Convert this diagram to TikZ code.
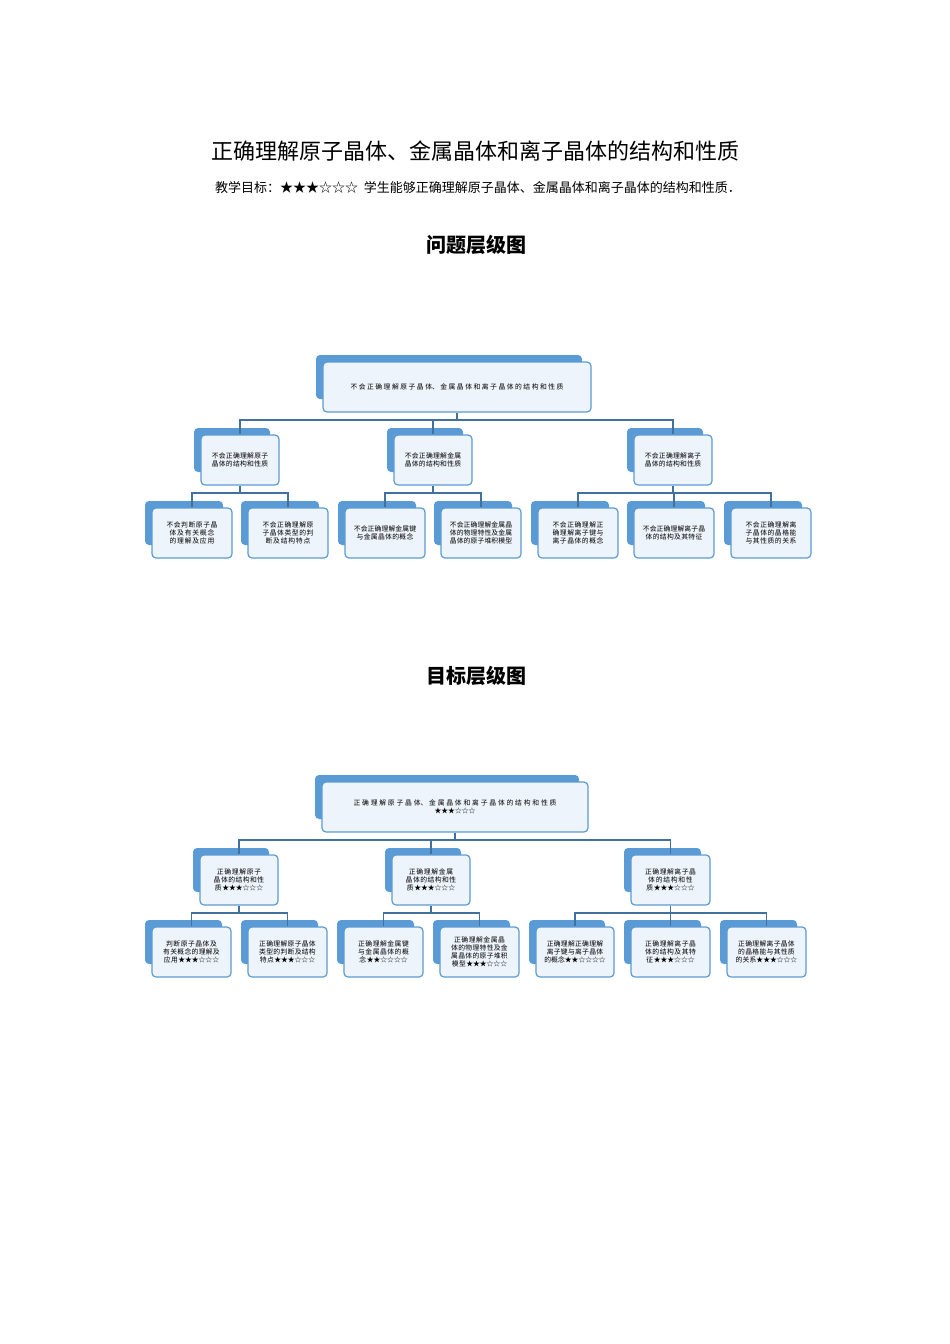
\documentclass[tikz,border=0pt]{standalone}
\usepackage{fontspec}
\setmainfont{Noto Sans CJK SC}
\XeTeXlinebreaklocale "zh"
\XeTeXlinebreakskip=0pt plus 1pt
\usetikzlibrary{backgrounds}
\definecolor{bk}{HTML}{5B9BD5}
\definecolor{fr}{HTML}{EEF4FB}
\definecolor{ln}{HTML}{41719C}
\tikzset{
 fbox/.style={draw=bk,line width=1.2pt,fill=fr,rounded corners=4pt,align=center,font=\fontsize{6.8}{8}\selectfont,inner sep=1pt},
 conn/.style={draw=ln,line width=1.2pt},
 ttl/.style={font=\fontsize{20}{24}\selectfont\bfseries}
}
\newcommand{\bx}[6]{% name, x1, y1, x2, y2, text
 \pgfmathsetmacro{\bw}{#4-#2}\pgfmathsetmacro{\bh}{#5-#3}\pgfmathsetmacro{\tw}{#4-#2-14}
 \pgfmathsetmacro{\cx}{(#2+#4)/2}\pgfmathsetmacro{\cy}{(#3+#5)/2}
 \node[fbox,minimum width=\bw pt,minimum height=\bh pt,text width=\tw pt] (#1) at (\cx,\cy) {#6};
 \begin{pgfonlayer}{background}
 \fill[bk,rounded corners=4pt] (#2-7,#3-7) rectangle (#4-9,#5-13);
 \end{pgfonlayer}}
\newcommand{\tree}[3]{% parent, y, children list
 \draw[conn] (#1.south) -- (#1.south|-0,#2) coordinate (#1h);
 \foreach \c in {#3} {\draw[conn] (#1h) -| (\c.north);}
}
\begin{document}
\begin{tikzpicture}[x=1pt,y=-1pt]
\useasboundingbox (0,0) rectangle (950,1344);
\node[font=\fontsize{22}{26}\selectfont] (t) at (475,151) {正确理解原子晶体、金属晶体和离子晶体的结构和性质};
\node[font=\fontsize{13}{16}\selectfont] (s) at (478,188) {教学目标：★★★☆☆☆\ \ 学生能够正确理解原子晶体、金属晶体和离子晶体的结构和性质．};
\node[ttl] (h1) at (476,245) {问题层级图};
\node[ttl] (h2) at (476,676) {目标层级图};
% problem chart
\bx{p0}{323}{362}{591}{412}{不会正确理解原子晶体、金属晶体和离子晶体的结构和性质}
\bx{pa}{201}{435}{279}{485}{不会正确理解原子晶体的结构和性质}
\bx{pb}{394}{435}{472}{485}{不会正确理解金属晶体的结构和性质}
\bx{pc}{634}{435}{712}{485}{不会正确理解离子晶体的结构和性质}
\bx{p1}{152}{508}{232}{558}{不会判断原子晶体及有关概念的理解及应用}
\bx{p2}{248}{508}{328}{558}{不会正确理解原子晶体类型的判断及结构特点}
\bx{p3}{345}{508}{425}{558}{不会正确理解金属键与金属晶体的概念}
\bx{p4}{441}{508}{521}{558}{不会正确理解金属晶体的物理特性及金属晶体的原子堆积模型}
\bx{p5}{538}{508}{618}{558}{不会正确理解正确理解离子键与离子晶体的概念}
\bx{p6}{634}{508}{714}{558}{不会正确理解离子晶体的结构及其特征}
\bx{p7}{731}{508}{811}{558}{不会正确理解离子晶体的晶格能与其性质的关系}
\tree{p0}{420}{pa,pb,pc}
\tree{pa}{493}{p1,p2}
\tree{pb}{493}{p3,p4}
\tree{pc}{493}{p5,p6,p7}
% goal chart
\bx{g0}{322}{782}{588}{832}{正确理解原子晶体、金属晶体和离子晶体的结构和性质\\★★★☆☆☆}
\bx{ga}{200}{855}{278}{905}{正确理解原子晶体的结构和性质★★★☆☆☆}
\bx{gb}{392}{855}{470}{905}{正确理解金属晶体的结构和性质★★★☆☆☆}
\bx{gc}{631}{855}{710}{905}{正确理解离子晶体的结构和性质★★★☆☆☆}
\bx{g1}{152}{927}{231}{977}{判断原子晶体及有关概念的理解及应用★★★☆☆☆}
\bx{g2}{248}{927}{327}{977}{正确理解原子晶体类型的判断及结构特点★★★☆☆☆}
\bx{g3}{344}{927}{423}{977}{正确理解金属键与金属晶体的概念★★☆☆☆☆}
\bx{g4}{440}{927}{519}{977}{正确理解金属晶体的物理特性及金属晶体的原子堆积模型★★★☆☆☆}
\bx{g5}{536}{927}{614}{977}{正确理解正确理解离子键与离子晶体的概念★★☆☆☆☆}
\bx{g6}{631}{927}{710}{977}{正确理解离子晶体的结构及其特征★★★☆☆☆}
\bx{g7}{727}{927}{806}{977}{正确理解离子晶体的晶格能与其性质的关系★★★☆☆☆}
\tree{g0}{840}{ga,gb,gc}
\tree{ga}{913}{g1,g2}
\tree{gb}{913}{g3,g4}
\tree{gc}{913}{g5,g6,g7}
\end{tikzpicture}
\end{document}
